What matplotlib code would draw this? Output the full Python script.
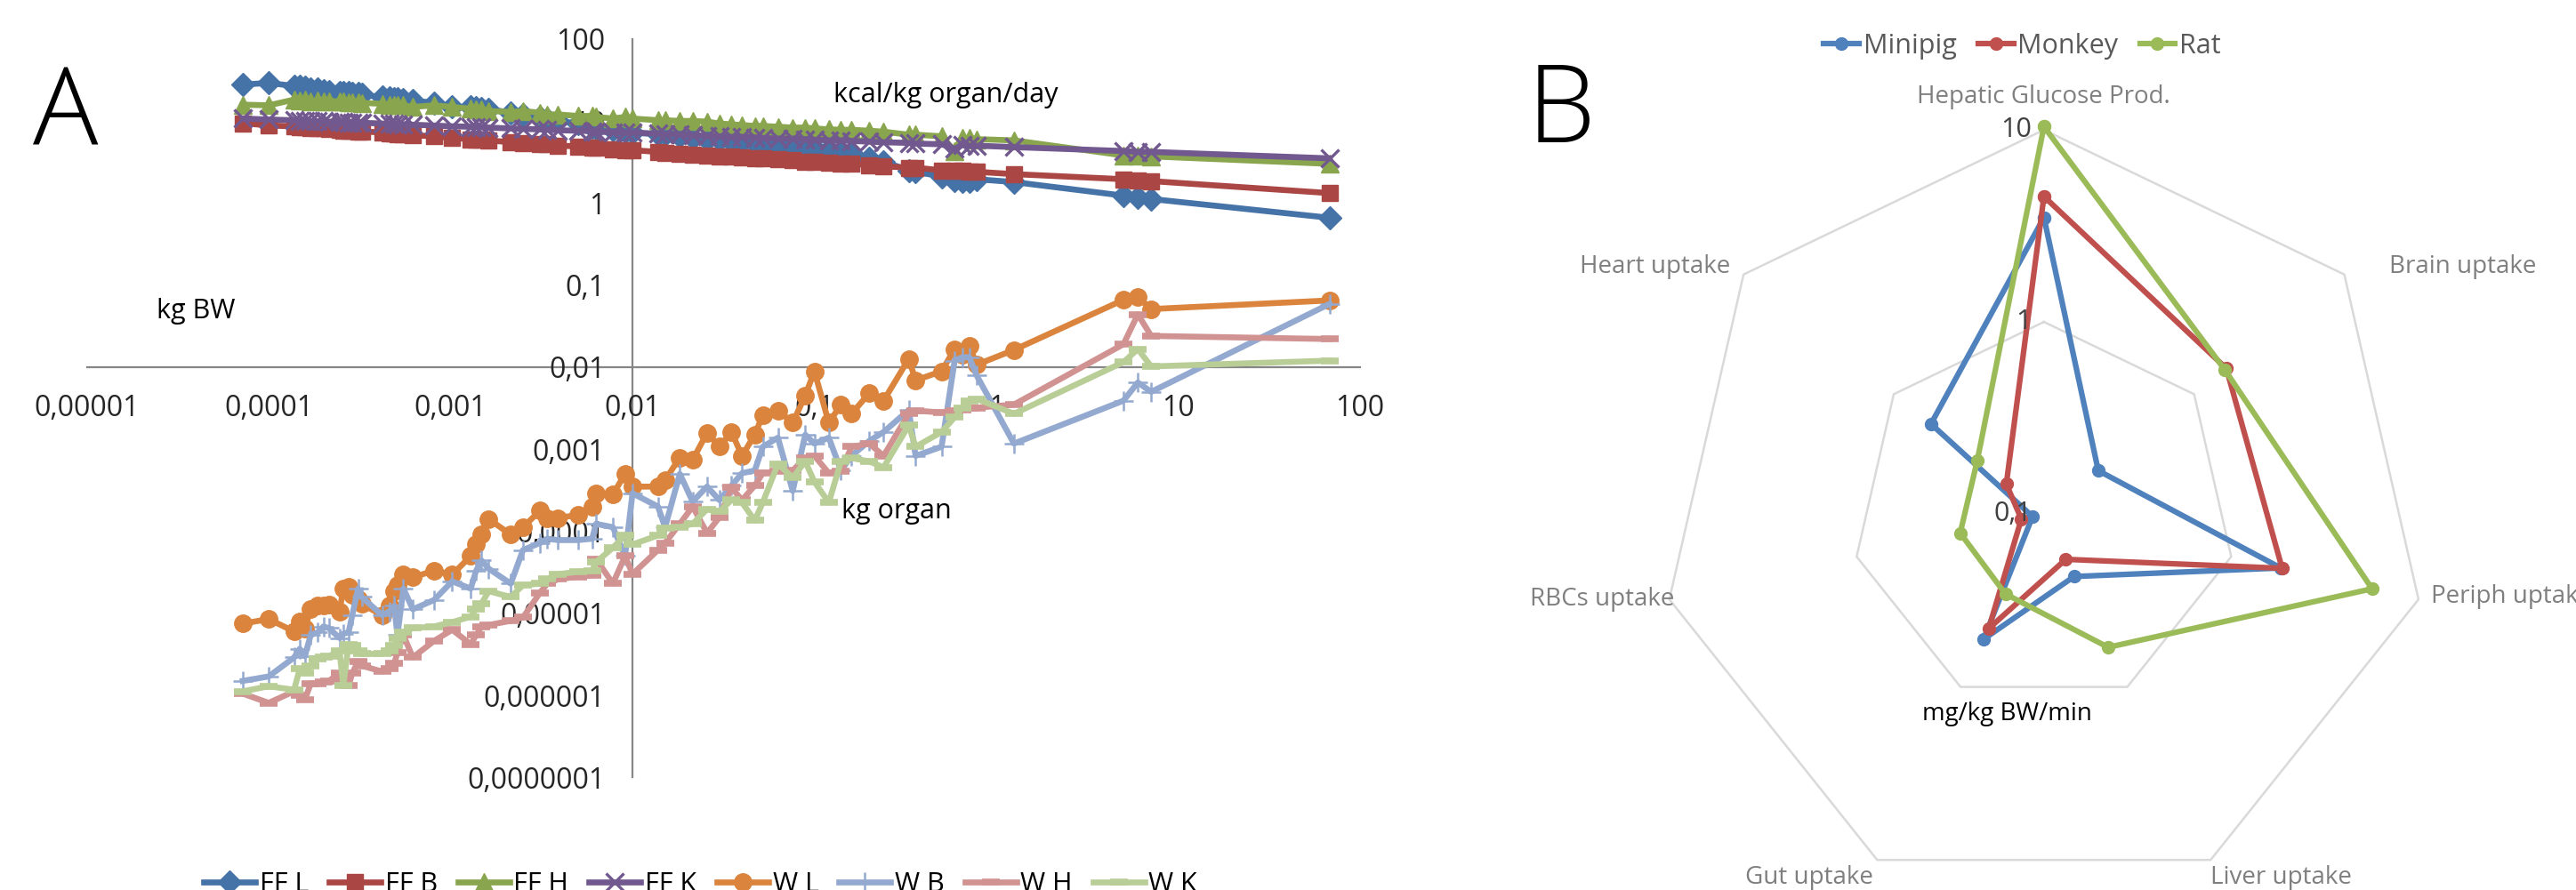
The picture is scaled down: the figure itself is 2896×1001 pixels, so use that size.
import numpy as np
import matplotlib.pyplot as plt
from matplotlib.ticker import FixedLocator, NullLocator

plt.rcParams['font.family'] = ['Open Sans', 'DejaVu Sans']

# ---- panel A: organ data vs body weight ----
body_kg = [7.2e-5, 1.0e-4, 1.38e-4, 1.48e-4, 1.58e-4, 1.70e-4, 1.86e-4, 2.0e-4, 2.14e-4, 2.45e-4,
           2.57e-4, 2.75e-4, 2.88e-4, 3.1e-4, 3.24e-4, 4.2e-4, 4.6e-4, 4.9e-4, 5.1e-4, 5.5e-4,
           6.2e-4, 8.1e-4, 1.02e-3, 1.29e-3, 1.38e-3, 1.48e-3, 1.62e-3, 2.14e-3, 2.5e-3, 3.1e-3,
           3.4e-3, 3.9e-3, 5.0e-3, 6.0e-3, 6.3e-3, 7.8e-3, 9.1e-3, 1.0e-2, 1.38e-2, 1.51e-2,
           1.82e-2, 2.14e-2, 2.57e-2, 3.0e-2, 3.5e-2, 4.0e-2, 4.7e-2, 5.2e-2, 6.3e-2, 7.6e-2,
           8.9e-2, 0.10, 0.12, 0.14, 0.16, 0.20, 0.24, 0.33, 0.36, 0.50,
           0.59, 0.65, 0.71, 0.78, 1.25, 5.0, 6.0, 7.1, 68]

# kcal/kg organ/day
ff_liver = [27.8, 29.0, 26.7, 26.7, 25.6, 24.5, 24.5, 23.4, 22.9, 22.4,
            22.4, 22.4, 21.9, 21.9, 20.9, 19.5, 19.1, 18.6, 18.6, 18.2,
            17.8, 16.6, 14.8, 14.8, 14.5, 14.3, 13.9, 12.6, 12.0, 11.0,
            10.5, 10.0, 9.3, 8.5, 8.3, 7.8, 7.4, 7.2, 6.9, 6.8,
            6.5, 6.3, 6.0, 5.9, 5.6, 5.5, 5.4, 5.2, 5.0, 4.9,
            4.7, 4.6, 4.5, 4.3, 4.1, 3.5, 3.2, 2.5, 2.4, 2.1,
            1.9, 1.85, 1.85, 1.95, 1.8, 1.23, 1.17, 1.12, 0.66]
ff_brain = [9.4, 8.8, 8.6, 8.4, 8.4, 8.3, 8.1, 8.1, 7.9, 7.8,
            7.7, 7.7, 7.6, 7.5, 7.5, 7.2, 7.1, 7.0, 6.9, 6.9,
            6.7, 6.5, 6.2, 6.0, 5.9, 5.9, 5.8, 5.5, 5.4, 5.2,
            5.2, 5.0, 4.9, 4.7, 4.7, 4.5, 4.4, 4.4, 4.2, 4.1,
            4.0, 3.9, 3.8, 3.7, 3.7, 3.6, 3.5, 3.5, 3.4, 3.3,
            3.2, 3.2, 3.1, 3.0, 3.0, 2.9, 2.8, 2.7, 2.7, 2.5,
            2.5, 2.5, 2.4, 2.4, 2.25, 1.95, 1.9, 1.85, 1.32]
ff_heart = [15.8, 15.5, 18.2, 17.8, 18.2, 17.4, 17.8, 17.4, 17.4, 17.4,
            17.4, 17.0, 17.0, 17.0, 16.6, 16.2, 15.5, 15.8, 15.5, 15.5,
            14.8, 15.5, 14.8, 14.1, 13.8, 13.8, 13.2, 12.9, 13.2, 12.6,
            12.0, 12.0, 11.5, 11.5, 11.2, 10.7, 11.2, 10.7, 10.2, 10.2,
            10.0, 10.0, 9.8, 9.3, 9.1, 8.9, 8.7, 8.7, 8.5, 8.3,
            8.3, 8.1, 7.9, 7.8, 7.8, 7.6, 7.4, 6.8, 6.8, 6.5,
            4.3, 6.2, 6.2, 6.0, 5.8, 3.8, 3.8, 3.7, 3.0]
ff_kidney = [10.7, 10.4, 10.2, 10.1, 10.0, 10.0, 9.9, 9.9, 9.8, 9.7,
             9.7, 9.6, 9.6, 9.5, 9.5, 9.3, 9.2, 9.2, 9.1, 9.1,
             9.0, 8.8, 8.6, 8.5, 8.4, 8.4, 8.3, 8.1, 8.0, 7.9,
             7.8, 7.7, 7.6, 7.5, 7.4, 7.3, 7.2, 7.2, 7.0, 6.9,
             6.8, 6.7, 6.6, 6.5, 6.4, 6.4, 6.3, 6.2, 6.1, 6.1,
             6.0, 5.9, 5.8, 5.8, 5.7, 5.6, 5.5, 5.4, 5.3, 5.2,
             4.6, 5.1, 5.0, 5.0, 4.8, 4.3, 4.2, 4.2, 3.5]

# kg organ
w_liver = [7.5e-6, 8.5e-6, 6.0e-6, 8.0e-6, 6.5e-6, 1.12e-5, 1.23e-5, 1.23e-5, 1.29e-5, 1.05e-5,
           2.0e-5, 2.1e-5, 1.7e-5, 1.5e-5, 1.3e-5, 9.5e-6, 1.23e-5, 1.86e-5, 2.2e-5, 3.0e-5,
           2.75e-5, 3.3e-5, 2.95e-5, 5.0e-5, 6.9e-5, 9.1e-5, 1.41e-4, 9.1e-5, 1.12e-4, 1.78e-4,
           1.45e-4, 1.45e-4, 1.58e-4, 2.0e-4, 2.9e-4, 2.8e-4, 5.0e-4, 3.5e-4, 3.5e-4, 4.2e-4,
           7.9e-4, 7.4e-4, 1.58e-3, 1.07e-3, 1.62e-3, 8.3e-4, 1.5e-3, 2.6e-3, 2.95e-3, 2.1e-3,
           4.5e-3, 8.9e-3, 2.1e-3, 3.5e-3, 2.7e-3, 4.8e-3, 3.9e-3, 1.26e-2, 6.9e-3, 8.9e-3,
           1.66e-2, 1.41e-2, 1.82e-2, 1.07e-2, 1.62e-2, 6.6e-2, 7.2e-2, 5.1e-2, 6.5e-2]
w_brain = [1.5e-6, 1.7e-6, 2.9e-6, 3.7e-6, 3.0e-6, 5.4e-6, 5.9e-6, 6.9e-6, 6.6e-6, 5.0e-6,
           5.6e-6, 5.9e-6, 9.5e-6, 2.0e-5, 1.58e-5, 9.5e-6, 1.05e-5, 1.23e-5, 5.4e-6, 2.0e-5,
           1.12e-5, 1.45e-5, 2.45e-5, 2.0e-5, 3.3e-5, 4.4e-5, 3.5e-5, 2.3e-5, 5.9e-5, 7.2e-5,
           8.1e-5, 7.8e-5, 7.8e-5, 8.1e-5, 1.23e-4, 1.12e-4, 5.0e-5, 2.9e-4, 2.0e-4, 1.12e-4,
           5.0e-4, 2.3e-4, 3.5e-4, 2.4e-4, 3.6e-4, 5.1e-4, 5.5e-4, 1.07e-3, 1.38e-3, 3.1e-4,
           1.5e-3, 1.17e-3, 1.38e-3, 5.5e-4, 8.3e-4, 1.26e-3, 1.62e-3, 3.0e-3, 8.3e-4, 1.07e-3,
           1.2e-2, 1.32e-2, 1.32e-2, 7.9e-3, 1.17e-3, 3.9e-3, 6.5e-3, 5.0e-3, 5.9e-2]
w_heart = [1.05e-6, 8.1e-7, 1.12e-6, 1.0e-6, 8.9e-7, 1.38e-6, 1.38e-6, 1.45e-6, 1.5e-6, 1.86e-6,
           1.58e-6, 1.32e-6, 1.86e-6, 2.6e-6, 2.3e-6, 1.95e-6, 2.1e-6, 2.45e-6, 3.3e-6, 5.4e-6,
           2.9e-6, 4.6e-6, 6.3e-6, 4.2e-6, 5.4e-6, 6.9e-6, 7.2e-6, 8.1e-6, 8.9e-6, 1.78e-5,
           2.3e-5, 2.6e-5, 2.8e-5, 2.9e-5, 4.6e-5, 2.3e-5, 5.0e-5, 3.0e-5, 5.9e-5, 7.2e-5,
           1.23e-4, 2.0e-4, 9.5e-5, 1.48e-4, 3.4e-4, 2.4e-4, 3.6e-4, 5.1e-4, 5.4e-4, 5.5e-4,
           7.8e-4, 8.3e-4, 5.1e-4, 5.4e-4, 1.07e-3, 1.17e-3, 8.3e-4, 2.7e-3, 2.95e-3, 2.8e-3,
           2.95e-3, 3.0e-3, 3.2e-3, 3.2e-3, 3.5e-3, 1.9e-2, 4.4e-2, 2.4e-2, 2.2e-2]
w_kidney = [1.12e-6, 1.29e-6, 1.17e-6, 2.1e-6, 1.86e-6, 2.3e-6, 2.8e-6, 2.9e-6, 3.0e-6, 3.5e-6,
            1.32e-6, 4.2e-6, 4.1e-6, 3.5e-6, 3.2e-6, 3.2e-6, 3.5e-6, 4.1e-6, 5.0e-6, 5.9e-6,
            6.6e-6, 6.9e-6, 7.8e-6, 9.1e-6, 1.12e-5, 1.32e-5, 1.86e-5, 1.58e-5, 2.2e-5, 2.3e-5,
            2.6e-5, 3.0e-5, 3.2e-5, 3.3e-5, 4.2e-5, 6.3e-5, 8.9e-5, 6.9e-5, 8.9e-5, 1.1e-4,
            1.12e-4, 1.23e-4, 1.86e-4, 1.74e-4, 2.4e-4, 2.24e-4, 1.35e-4, 2.24e-4, 6.6e-4, 4.5e-4,
            7.1e-4, 4.0e-4, 2.24e-4, 7.1e-4, 7.8e-4, 7.1e-4, 6.0e-4, 1.95e-3, 1.07e-3, 1.62e-3,
            2.45e-3, 3.2e-3, 3.9e-3, 4.1e-3, 2.7e-3, 1.15e-2, 1.66e-2, 1.02e-2, 1.2e-2]

series_names = ["FF L", "FF B", "FF H", "FF K", "W L", "W B", "W H", "W K"]

x_ticks = [1e-5, 1e-4, 1e-3, 1e-2, 1e-1, 1, 10, 100]
x_tick_labels = ["0,00001", "0,0001", "0,001", "0,01", "0,1", "1", "10", "100"]
y_ticks = [1e-7, 1e-6, 1e-5, 1e-4, 1e-3, 1e-2, 1e-1, 1, 10, 100]
y_tick_labels = ["0,0000001", "0,000001", "0,00001", "0,0001", "0,001",
                 "0,01", "0,1", "1", "10", "100"]

# ---- panel B: glucose fluxes, mg/kg BW/min ----
flux_axes = ["Hepatic Glucose Prod.", "Brain uptake", "Periph uptake", "Liver uptake",
             "Gut uptake", "RBCs uptake", "Heart uptake"]
minipig = [3.5, 0.23, 1.84, 0.23, 0.53, 0.115, 0.565]
monkey = [4.5, 1.64, 1.87, 0.183, 0.46, 0.132, 0.178]
rat = [10.4, 1.6, 5.65, 0.59, 0.29, 0.28, 0.278]
radar_rings = [1, 10]
radar_ticks = [0.1, 1, 10]
radar_tick_labels = ["0,1", "1", "10"]

fig = plt.figure(figsize=(28.96, 10.01), dpi=100)

# ---------------- panel A ----------------
ax = fig.add_axes([0.0337, 0.1265, 0.4943, 0.8298])
ax.set_xscale('log')
ax.set_yscale('log')
ax.set_xlim(1e-5, 100)
ax.set_ylim(1e-7, 100)

styles = [
    (ff_liver, '#4572A7', 'D', 13, 1),
    (ff_brain, '#AA4643', 's', 13, 1),
    (ff_heart, '#89A54E', '^', 15, 1),
    (ff_kidney, '#71588F', 'x', 14, 2.4),
    (w_liver, '#DB843D', 'o', 14, 1),
    (w_brain, '#93A9CF', '+', 16, 1.8),
    (w_heart, '#D19392', '_', 15, 5.5),
    (w_kidney, '#B9CD96', '_', 15, 5.5),
]
for name, (vals, col, mk, ms, mew) in zip(series_names, styles):
    ax.plot(body_kg, vals, color=col, lw=4.8, marker=mk, ms=ms, mew=mew,
            mfc=col, mec=col, label=name, clip_on=False)

for side in ['top', 'right']:
    ax.spines[side].set_visible(False)
ax.spines['left'].set_position(('data', 0.01))
ax.spines['bottom'].set_position(('data', 0.01))
for side in ['left', 'bottom']:
    ax.spines[side].set_color('#868686')
    ax.spines[side].set_linewidth(1.6)
    ax.spines[side].set_zorder(0.5)

ax.xaxis.set_major_locator(FixedLocator(x_ticks))
ax.xaxis.set_minor_locator(NullLocator())
ax.set_xticklabels(x_tick_labels)
ax.yaxis.set_major_locator(FixedLocator(y_ticks))
ax.yaxis.set_minor_locator(NullLocator())
ax.set_yticklabels(y_tick_labels)
ax.tick_params(axis='x', length=0, pad=22, labelsize=23, labelcolor='#262626')
ax.tick_params(axis='y', length=0, pad=22, labelsize=23, labelcolor='#262626')
ax.patch.set_alpha(0)

fig.text(0.367, 0.893, "kcal/kg organ/day", fontsize=22, ha='center', va='center')
fig.text(0.076, 0.650, "kg BW", fontsize=22, ha='center', va='center')
fig.text(0.348, 0.426, "kg organ", fontsize=22, ha='center', va='center')

fig.legend(*ax.get_legend_handles_labels(), loc='center', bbox_to_anchor=(0.272, 0.006),
           ncol=8, frameon=False, fontsize=22, handlelength=1.9, handletextpad=0.15,
           columnspacing=0.75)

fig.text(0.0255, 0.868, "A", fontsize=88, fontweight='light', ha='center', va='center')
fig.text(0.606, 0.872, "B", fontsize=88, fontweight='light', ha='center', va='center')

# ---------------- panel B ----------------
rax = fig.add_axes([0.6443, -0.009, 0.2983, 0.8631], projection='polar')
rax.set_theta_zero_location('N')
rax.set_theta_direction(-1)
rax.set_rscale('log')
rax.set_rlim(0.1, 10)
rax.set_axis_off()

theta = np.linspace(0, 2 * np.pi, len(flux_axes), endpoint=False)
theta_c = np.append(theta, theta[0])

for ring in radar_rings:
    rax.plot(theta_c, [ring] * (len(flux_axes) + 1), color='#d9d9d9', lw=1.8,
             clip_on=False, zorder=1)

for vals, col, name in [(minipig, '#4F81BD', 'Minipig'),
                        (monkey, '#C0504D', 'Monkey'),
                        (rat, '#9BBB59', 'Rat')]:
    rax.plot(theta_c, vals + vals[:1], color=col, lw=4.5, marker='o', ms=10,
             label=name, clip_on=False, zorder=3)

for v, lab in zip(radar_ticks, radar_tick_labels):
    rax.annotate(lab, xy=(0, v), xytext=(-10, 0), textcoords='offset points',
                 ha='right', va='center', fontsize=22, color='#404040',
                 annotation_clip=False)

label_place = [
    ((0, 27), 'center', 'center'),
    ((36, 6), 'left', 'center'),
    ((10, 2), 'left', 'center'),
    ((0, -14), 'left', 'center'),
    ((-3, -14), 'right', 'center'),
    ((4, 0), 'right', 'center'),
    ((-11, 6), 'right', 'center'),
]
for t, lab, (off, ha, va) in zip(theta, flux_axes, label_place):
    rax.annotate(lab, xy=(t, 10), xytext=off, textcoords='offset points',
                 ha=ha, va=va, fontsize=20, color='#7f7f7f', annotation_clip=False)

fig.text(0.779, 0.198, "mg/kg BW/min", fontsize=20, ha='center', va='center')

leg = fig.legend(*rax.get_legend_handles_labels(), loc='center',
                 bbox_to_anchor=(0.785, 0.948), ncol=3, frameon=False, fontsize=22,
                 handlelength=1.3, handletextpad=0.15, columnspacing=0.8)
for t in leg.get_texts():
    t.set_color('#595959')

fig.savefig('out.png', dpi=100)
